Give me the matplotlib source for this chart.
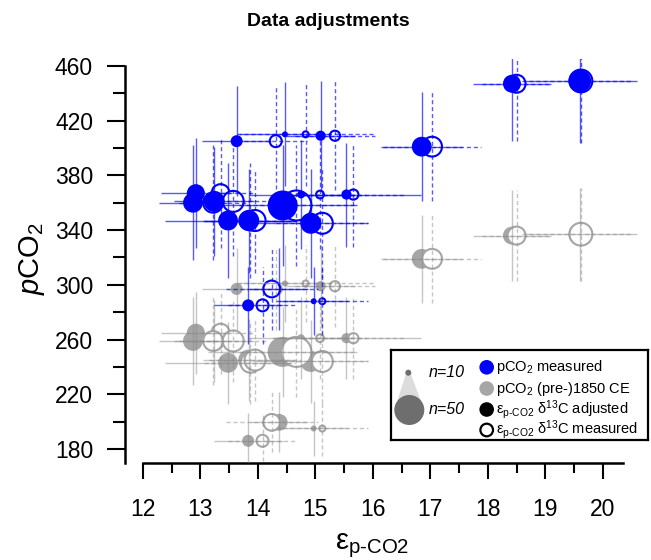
import numpy as np
import matplotlib
matplotlib.use("Agg")
import matplotlib.pyplot as plt
from matplotlib.patches import Circle, Polygon

plt.rcParams['font.family'] = ['Liberation Sans', 'DejaVu Sans']
plt.rcParams['mathtext.fontset'] = 'custom'
plt.rcParams['mathtext.rm'] = 'Liberation Sans'
plt.rcParams['mathtext.it'] = 'Liberation Sans:italic'
plt.rcParams['mathtext.bf'] = 'Liberation Sans:bold'

# one entry per sample
samples = list("ABCDEFGHIJKLMNOPQR")
eps_adj = [19.60, 18.42, 16.85, 13.63, 14.47, 15.09, 12.92, 12.87, 13.24,
           13.48, 13.84, 14.43, 14.75, 15.54, 14.92, 13.83, 14.97, 14.37]
eps_meas = [19.62, 18.50, 17.03, 14.31, 14.83, 15.34, 13.35, 13.22, 13.57,
            13.87, 13.95, 14.67, 15.08, 15.66, 15.12, 14.08, 15.12, 14.24]
pco2_meas = [449, 447, 401, 405, 410, 409, 367, 360, 361,
             347, 347, 358, 366, 366, 345, 285, 288, 297]
pco2_1850 = [337, 336, 319, 297, 301, 299, 265, 259, 259,
             243, 245, 251, 261, 261, 244, 186, 195, 199.5]
n_obs = [38, 30, 33, 20, 10, 17, 30, 33, 35, 33, 35, 50, 13, 17, 35, 20, 10, 28]
xerr_adj = [1.0, 0.68, 0.7, 0.6, 0.8, 0.6, 0.6, 0.6, 0.7,
            1.1, 0.8, 1.3, 0.9, 1.3, 1.0, 0.6, 0.6, 0.5]
xerr_meas = [0.9, 0.6, 0.85, 0.55, 1.2, 0.7, 0.6, 0.6, 0.6,
             0.8, 0.8, 1.0, 0.8, 0.9, 0.8, 0.6, 0.8, 0.8]
yerr_meas = [45, 42, 40, 40, 38, 40, 40, 42, 40, 42, 38, 44, 40, 38, 40, 28, 25, 30]
yerr_1850 = [34, 33, 32, 30, 28, 30, 30, 32, 30, 30, 30, 33, 30, 30, 30, 20, 20, 22]
no_blue_adj = ["R"]

BLUE = "#0000ff"
GREY = "#a6a6a6"

eps_adj = np.array(eps_adj)
eps_meas = np.array(eps_meas)
pco2_meas = np.array(pco2_meas, dtype=float)
pco2_1850 = np.array(pco2_1850, dtype=float)
n_obs = np.array(n_obs)
show_adj = np.array([s not in no_blue_adj for s in samples])


def msize(n):
    # radius in px = 0.3 * n, dpi 100 -> 0.72 pt per px
    return (2 * 0.3 * np.asarray(n) * 0.72) ** 2


fig = plt.figure(figsize=(6.51, 5.6), dpi=100)
ax = fig.add_axes([125 / 651, 97.3 / 560, 518 / 651, 403.6 / 560])
ax.set_xlim(11.687, 20.7)
ax.set_ylim(170, 465)

# markers: grey first, blue on top
ax.scatter(eps_adj, pco2_1850, s=msize(n_obs), color=GREY, lw=0, zorder=2)
ax.scatter(eps_meas, pco2_1850, s=msize(n_obs), facecolor="white",
           edgecolor=GREY, lw=1.5, zorder=3)
ax.scatter(eps_meas, pco2_meas, s=msize(n_obs), facecolor="white",
           edgecolor=BLUE, lw=1.5, zorder=4)
ax.scatter(eps_adj[show_adj], pco2_meas[show_adj], s=msize(n_obs[show_adj]),
           color=BLUE, lw=0, zorder=5)

# error bars on top, translucent
for y, yerr, col, a in [(pco2_1850, yerr_1850, "#8c8c8c", 0.5),
                        (pco2_meas, yerr_meas, BLUE, 0.65)]:
    yerr = np.array(yerr)
    ax.hlines(y, eps_adj - xerr_adj, eps_adj + xerr_adj, colors=col,
              alpha=a, lw=1.0, zorder=6)
    ax.vlines(eps_adj, y - yerr, y + yerr, colors=col, alpha=a, lw=1.0, zorder=6)
    ax.hlines(y, eps_meas - xerr_meas, eps_meas + xerr_meas, colors=col,
              alpha=a, lw=1.0, linestyles=(0, (3, 2)), zorder=6)
    ax.vlines(eps_meas, y - yerr, y + yerr, colors=col, alpha=a, lw=1.0,
              linestyles=(0, (3, 2)), zorder=6)

# R style axes
for side in ["top", "right"]:
    ax.spines[side].set_visible(False)
ax.spines["left"].set_bounds(170, 460)
ax.spines["bottom"].set_bounds(12, 20.35)
ax.spines["left"].set_linewidth(1.8)
ax.spines["bottom"].set_linewidth(1.8)
ax.set_xticks(range(12, 21))
ax.set_xticks(np.arange(12.5, 20, 1), minor=True)
ax.set_yticks(range(180, 461, 40))
ax.set_yticks(range(200, 460, 40), minor=True)
ax.tick_params(axis="x", which="major", length=11.7, width=1.5, pad=14, labelsize=16.5)
ax.tick_params(axis="x", which="minor", length=7.4, width=1.5)
ax.tick_params(axis="y", which="major", length=13, width=1.5, pad=10, labelsize=16.5)
ax.tick_params(axis="y", which="minor", length=8.6, width=1.5)

fig.text(328 / 651, 1 - 22 / 560, "Data adjustments", fontsize=14,
         fontweight="bold", ha="center", va="center")
fig.text(32 / 651, 1 - 258 / 560, r"$\mathit{p}$CO$_2$", fontsize=21,
         rotation=90, ha="center", va="center")
fig.text(372 / 651, 1 - 549 / 560, r"ε$_{\mathrm{p\text{-}CO2}}$", fontsize=21,
         ha="center", va="baseline")

# legend box in pixel units
lax = fig.add_axes([391 / 651, 1 - 440 / 560, 257 / 651, 90 / 560])
lax.set_xlim(0, 257)
lax.set_ylim(90, 0)
lax.set_xticks([])
lax.set_yticks([])
for sp in lax.spines.values():
    sp.set_linewidth(1.6)
lax.add_patch(Polygon([(15.3, 22.7), (19.3, 22.7), (32.5, 58), (4, 58)],
                      color="#dcdcdc", lw=0))
lax.add_patch(Circle((17.3, 22.7), 3, color="#6e6e6e", lw=0))
lax.add_patch(Circle((18.3, 60), 15, color="#6e6e6e", lw=0))
lax.text(38, 22.7, "n=10", style="italic", fontsize=11.5, va="center")
lax.text(38, 60, "n=50", style="italic", fontsize=11.5, va="center")

leg_y = [17.3, 38.5, 59.5, 80]
leg_labels = [r"pCO$_2$ measured", r"pCO$_2$ (pre-)1850 CE",
              r"ε$_{\mathrm{p\text{-}CO2}}$ δ$^{13}$C adjusted",
              r"ε$_{\mathrm{p\text{-}CO2}}$ δ$^{13}$C measured"]
lax.add_patch(Circle((95.7, leg_y[0]), 7.3, color=BLUE, lw=0))
lax.add_patch(Circle((95.7, leg_y[1]), 7.3, color=GREY, lw=0))
lax.add_patch(Circle((95.7, leg_y[2]), 7.3, color="black", lw=0))
lax.add_patch(Circle((95.7, leg_y[3]), 6.3, facecolor="white",
                     edgecolor="black", lw=1.6))
for yy, lab in zip(leg_y, leg_labels):
    lax.text(105, yy, lab, fontsize=10.5, va="center")

fig.savefig("out.png", dpi=100)
